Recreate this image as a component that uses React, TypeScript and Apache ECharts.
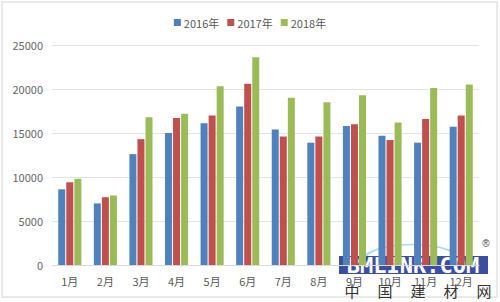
import React, { useEffect, useRef } from "react";
import * as echarts from "echarts";

const months = ["1月", "2月", "3月", "4月", "5月", "6月", "7月", "8月", "9月", "10月", "11月", "12月"];
const seriesNames = ["2016年", "2017年", "2018年"];
const v2016 = [8600, 7000, 12600, 15000, 16100, 18000, 15400, 13900, 15800, 14700, 13900, 15700];
const v2017 = [9400, 7700, 14300, 16700, 17000, 20600, 14600, 14600, 16000, 14200, 16600, 17000];
const v2018 = [9800, 7900, 16800, 17200, 20300, 23600, 19000, 18500, 19300, 16200, 20100, 20500];
const yTicks = { min: 0, max: 25000, interval: 5000 };
const colors = ["#4F81BD", "#C0504D", "#9BBB59"];
const watermarkChars = ["中", "国", "建", "材", "网"];

export default function App() {
  const ref = useRef<HTMLDivElement>(null);
  useEffect(() => {
    if (!ref.current) return;
    const chart = echarts.init(ref.current, null, { renderer: "svg" });
    const font = "'Noto Sans CJK SC', 'Microsoft YaHei', sans-serif";
    const values = [v2016, v2017, v2018];
    chart.setOption({
      animation: false,
      backgroundColor: "#ffffff",
      textStyle: { fontFamily: font },
      legend: {
        top: 12,
        left: "center",
        itemWidth: 7,
        itemHeight: 7,
        itemGap: 8,
        icon: "rect",
        textStyle: { fontSize: 11, color: "#595959", fontFamily: font, padding: [0, 0, 0, -2] },
        data: seriesNames,
      },
      grid: { left: 52, right: 21, top: 45, bottom: 37, containLabel: false },
      xAxis: {
        type: "category",
        data: months,
        axisLine: { show: true, lineStyle: { color: "#d9d9d9" } },
        axisTick: { show: false },
        axisLabel: { color: "#595959", fontSize: 11, margin: 10, fontFamily: font },
      },
      yAxis: {
        type: "value",
        min: yTicks.min,
        max: yTicks.max,
        interval: yTicks.interval,
        axisLine: { show: false },
        axisTick: { show: false },
        axisLabel: {
          color: "#666666",
          fontSize: 11,
          margin: 9,
          fontFamily: font,
          formatter: (v: number) => String(v),
        },
        splitLine: { lineStyle: { color: "#e3e3e3", width: 1 } },
      },
      series: seriesNames.map((name, i) => ({
        name,
        type: "bar",
        data: values[i],
        barWidth: 7,
        barGap: "15%",
        itemStyle: { color: colors[i] },
      })),
      graphic: [
        {
          type: "rect",
          shape: { x: 2, y: 2, width: 495, height: 295 },
          style: { fill: "none", stroke: "#e2e2e2", lineWidth: 1.5 },
          silent: true,
        },
        {
          type: "arc",
          shape: { cx: 412, cy: 262, r: 50, startAngle: Math.PI * 1.05, endAngle: Math.PI * 1.8 },
          scaleY: 0.35,
          originX: 412,
          originY: 262,
          style: { stroke: "#9fd3ee", lineWidth: 4, fill: "none", opacity: 0.85 },
          silent: true,
        },
        {
          type: "rect",
          shape: { x: 339, y: 256, width: 149, height: 18 },
          style: { fill: "#3a4fa0" },
          silent: true,
        },
        {
          type: "text",
          x: 413,
          y: 265,
          style: {
            text: "BMLINK.COM",
            fill: "#ffffff",
            font: "bold 22px 'DejaVu Sans Mono', monospace",
            align: "center",
            verticalAlign: "middle",
          },
          silent: true,
        },
        {
          type: "text",
          x: 486,
          y: 243,
          style: { text: "®", fill: "#444", fontSize: 10, align: "center", verticalAlign: "middle" },
          silent: true,
        },
        ...watermarkChars.map((c, i) => ({
          type: "text",
          x: 352 + i * 33,
          y: 290,
          style: {
            text: c,
            fill: "#333333",
            font: "15px 'Noto Sans CJK SC', sans-serif",
            align: "center",
            verticalAlign: "middle",
          },
          silent: true,
        })),
      ],
    });
    return () => chart.dispose();
  }, []);
  return <div ref={ref} style={{ width: 500, height: 302, position: "absolute", left: 0, top: 0 }} />;
}
